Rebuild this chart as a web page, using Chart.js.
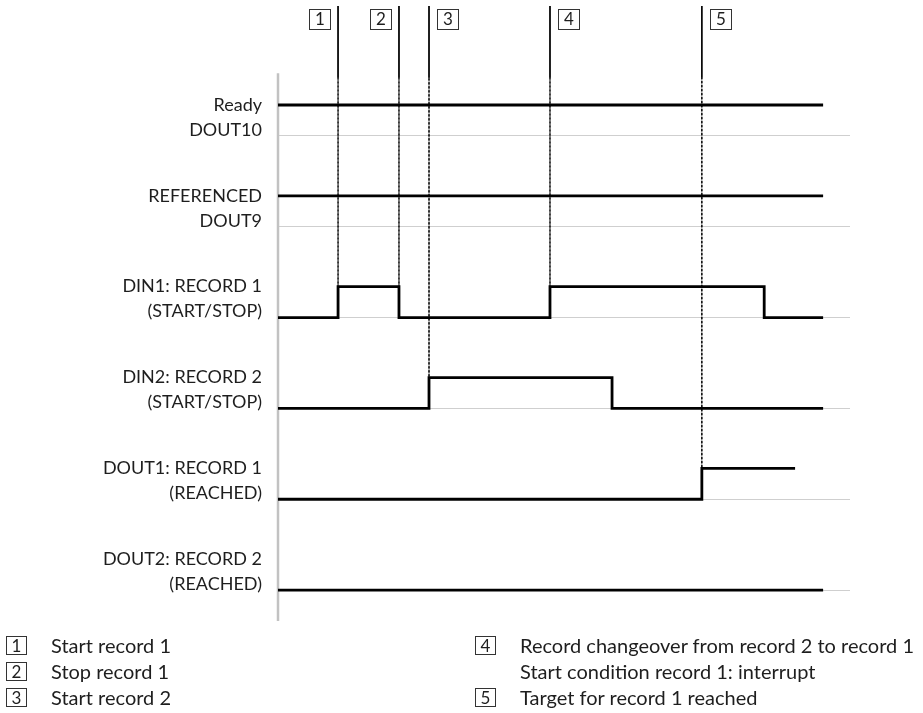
<!DOCTYPE html>
<html lang="en">

<head>
    <meta charset="UTF-8">
    <title>Record switching timing diagram</title>
    <style>
        body { margin: 0; background: #fff; }
        .wrap { position: relative; width: 923px; height: 713px; }
        canvas { position: absolute; left: 0; top: 0; }
        .note { position: absolute; font-family: Lato, 'Open Sans', sans-serif; font-size: 20px; color: #1e1e1e; line-height: 26px; white-space: nowrap; }
        .box { position: absolute; width: 19px; height: 17px; border: 1px solid #333; font-family: Lato, sans-serif; font-size: 17px; line-height: 17px; text-align: center; color: #1e1e1e; }
    </style>
</head>

<body>
    <div class="wrap">
        <canvas id="timing" width="923" height="713"></canvas>
        <div id="notes"></div>
    </div>

    <script src="https://cdn.jsdelivr.net/npm/chart.js"></script>
    <script>
        // signal rows, top to bottom
        const signalLabels = [
            ['Ready', 'DOUT10'],
            ['REFERENCED', 'DOUT9'],
            ['DIN1: RECORD 1', '(START/STOP)'],
            ['DIN2: RECORD 2', '(START/STOP)'],
            ['DOUT1: RECORD 1', '(REACHED)'],
            ['DOUT2: RECORD 2', '(REACHED)']
        ];

        // time (0..100) where each level starts, and the level (0 = low, 1 = high)
        const readyTimes = [0, 95.3];
        const readyLevels = [1, 1];
        const referencedTimes = [0, 95.3];
        const referencedLevels = [1, 1];
        const din1Times = [0, 10.5, 21.15, 47.55, 85.0, 95.3];
        const din1Levels = [0, 1, 0, 1, 0, 0];
        const din2Times = [0, 26.4, 58.4, 95.3];
        const din2Levels = [0, 1, 0, 0];
        const dout1Times = [0, 74.1, 90.4];
        const dout1Levels = [0, 1, 1];
        const dout2Times = [0, 95.3];
        const dout2Levels = [0, 0];

        // numbered events
        const markerNumbers = ['1', '2', '3', '4', '5'];
        const markerTimes = [10.5, 21.15, 26.4, 47.55, 74.1];
        const markerRows = [2, 2, 3, 2, 4];

        // key below the diagram
        const noteNumbers = ['1', '2', '3', '4', '', '5'];
        const noteTexts = [
            'Start record 1',
            'Stop record 1',
            'Start record 2',
            'Record changeover from record 2 to record 1',
            'Start condition record 1: interrupt',
            'Target for record 1 reached'
        ];

        const highStep = 0.34;
        const rowCount = signalLabels.length;
        const rowBase = i => rowCount - 1 - i;

        const signalTimes = [readyTimes, referencedTimes, din1Times, din2Times, dout1Times, dout2Times];
        const signalLevels = [readyLevels, referencedLevels, din1Levels, din2Levels, dout1Levels, dout2Levels];

        const datasets = signalTimes.map((times, i) => ({
            label: signalLabels[i].join(' '),
            data: times.map((t, j) => ({ x: t, y: rowBase(i) + signalLevels[i][j] * highStep })),
            stepped: true,
            borderColor: '#000',
            borderWidth: 2.8,
            pointRadius: 0,
            borderCapStyle: 'butt',
            borderJoinStyle: 'miter'
        }));

        const yTop = 6.43;
        const solidEnd = 5.64;
        markerTimes.forEach((t, i) => {
            datasets.push({
                label: 'event ' + markerNumbers[i],
                data: [
                    { x: t, y: yTop },
                    { x: t, y: solidEnd },
                    { x: t, y: rowBase(markerRows[i]) + highStep }
                ],
                borderColor: '#000',
                borderWidth: 1,
                pointRadius: 0,
                segment: {
                    borderDash: ctx => ctx.p0DataIndex === 1 ? [2, 2] : undefined
                }
            });
        });

        const diagramExtras = {
            id: 'diagramExtras',
            beforeDatasetsDraw(chart) {
                const c = chart.ctx;
                const y = chart.scales.y;
                c.save();
                c.strokeStyle = '#c2c2c2';
                c.lineWidth = 2.5;
                c.beginPath();
                c.moveTo(chart.chartArea.left, y.getPixelForValue(5.69));
                c.lineTo(chart.chartArea.left, chart.chartArea.bottom);
                c.stroke();
                c.restore();
            },
            afterDraw(chart) {
                const c = chart.ctx;
                const x = chart.scales.x;
                c.save();
                c.font = '17px Lato, sans-serif';
                c.textAlign = 'center';
                c.textBaseline = 'middle';
                c.fillStyle = '#1e1e1e';
                c.strokeStyle = '#333';
                c.lineWidth = 1;
                markerTimes.forEach((t, i) => {
                    const px = Math.round(x.getPixelForValue(t));
                    const w = 21, h = 20;
                    const left = i < 2 ? px - 8 - w : px + 8;
                    c.strokeRect(left + 0.5, 9.5, w, h);
                    c.fillText(markerNumbers[i], left + w / 2 + 0.5, 20);
                });
                c.restore();
            }
        };

        new Chart(document.getElementById('timing'), {
            type: 'line',
            data: { datasets: datasets },
            options: {
                responsive: false,
                animation: false,
                events: [],
                layout: { padding: { left: 0, right: 73, top: 6, bottom: 92 } },
                plugins: {
                    legend: { display: false },
                    tooltip: { enabled: false }
                },
                scales: {
                    x: {
                        type: 'linear',
                        display: false,
                        min: 0,
                        max: 100
                    },
                    y: {
                        type: 'linear',
                        min: -0.34,
                        max: yTop,
                        afterBuildTicks: scale => {
                            scale.ticks = signalLabels.map((l, i) => ({ value: rowBase(i) }));
                        },
                        afterFit: scale => {
                            scale.width = 278;
                            scale.paddingTop = 0;
                            scale.paddingBottom = 0;
                        },
                        border: { display: false },
                        grid: {
                            color: '#cfcfcf',
                            lineWidth: 1,
                            drawTicks: false
                        },
                        ticks: {
                            autoSkip: false,
                            padding: 16,
                            labelOffset: -18.5,
                            color: '#1e1e1e',
                            font: { family: 'Lato, sans-serif', size: 18, lineHeight: '25px' },
                            callback: value => signalLabels[rowCount - 1 - Math.round(value)]
                        }
                    }
                }
            },
            plugins: [diagramExtras]
        });

        // key text as html
        const notes = document.getElementById('notes');
        const noteLeft = [6, 6, 6, 475, 475, 475];
        const noteTop = [632, 658, 684, 632, 658, 684];
        noteTexts.forEach((text, i) => {
            if (noteNumbers[i]) {
                const b = document.createElement('div');
                b.className = 'box';
                b.style.left = noteLeft[i] + 'px';
                b.style.top = (noteTop[i] + 4) + 'px';
                b.textContent = noteNumbers[i];
                notes.appendChild(b);
            }
            const d = document.createElement('div');
            d.className = 'note';
            d.style.left = (noteLeft[i] + 45) + 'px';
            d.style.top = noteTop[i] + 'px';
            d.textContent = text;
            notes.appendChild(d);
        });
    </script>
</body>

</html>
